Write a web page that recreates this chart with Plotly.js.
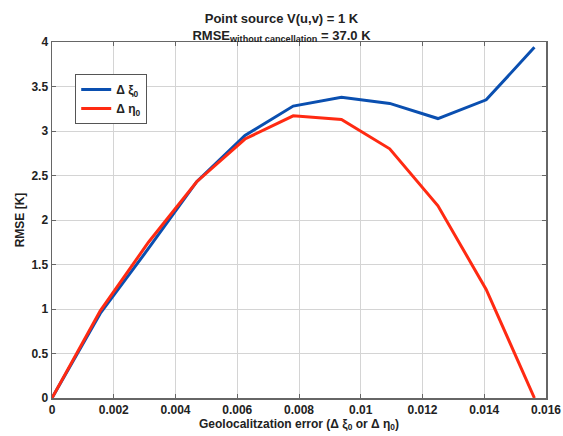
<!DOCTYPE html>
<html><head><meta charset="utf-8">
<script src="https://cdn.plot.ly/plotly-3.0.1.min.js"></script>
<style>html,body{margin:0;padding:0;background:#fff}#g{width:563px;height:436px}</style>
</head><body><div id="g"></div>
<script>
const xErr = [0, 0.0015625, 0.003125, 0.0046875, 0.00625, 0.0078125, 0.009375, 0.0109375, 0.0125, 0.0140625, 0.015625];
const rmseXi = [0, 0.95, 1.68, 2.43, 2.95, 3.28, 3.38, 3.31, 3.14, 3.35, 3.94];
const rmseEta = [0, 0.98, 1.75, 2.43, 2.91, 3.17, 3.13, 2.80, 2.16, 1.22, 0];
const xTicks = [0, 0.002, 0.004, 0.006, 0.008, 0.01, 0.012, 0.014, 0.016];
const xTickText = ['0','0.002','0.004','0.006','0.008','0.01','0.012','0.014','0.016'];
const yTicks = [0, 0.5, 1, 1.5, 2, 2.5, 3, 3.5, 4];
const yTickText = ['0','0.5','1','1.5','2','2.5','3','3.5','4'];

const fam = 'Liberation Sans, Arial, sans-serif';
const data = [
  {x: xErr, y: rmseXi, mode: 'lines', name: 'Δ ξ<sub>0</sub>', line: {color: '#0a4fb0', width: 3}},
  {x: xErr, y: rmseEta, mode: 'lines', name: 'Δ η<sub>0</sub>', line: {color: '#ff2a12', width: 3}}
];
const axBase = {showline: true, mirror: 'ticks', linecolor: '#666', linewidth: 1.5, ticks: 'inside', ticklen: 4, tickcolor: '#666',
  showgrid: true, gridcolor: '#d4d4d4', gridwidth: 1, zeroline: false, tickfont: {family: fam, size: 12, color: '#222', weight: 'bold'}};
const layout = {
  width: 563, height: 436,
  margin: {l: 52, r: 17, t: 42, b: 38},
  paper_bgcolor: '#fff', plot_bgcolor: '#fff',
  font: {family: fam, size: 12, color: '#222'},
  title: {text: '<b>Point source V(u,v) = 1 K<br>RMSE<sub>without cancellation</sub> = 37.0 K</b>', x: 0.5, xanchor: 'center', y: 0.948, yanchor: 'middle', font: {family: fam, size: 13, color: '#222'}},
  xaxis: Object.assign({}, axBase, {range: [0, 0.016], tickvals: xTicks, ticktext: xTickText,
    title: {text: '<b>Geolocalitzation error (Δ ξ<sub>0</sub> or Δ η<sub>0</sub>)</b>', standoff: 2, font: {family: fam, size: 12, color: '#222'}}}),
  yaxis: Object.assign({}, axBase, {range: [0, 4], tickvals: yTicks, ticktext: yTickText,
    title: {text: '<b>RMSE [K]</b>', standoff: 4, font: {family: fam, size: 12, color: '#222'}}}),
  showlegend: true,
  legend: {x: 0.047, y: 0.91, xanchor: 'left', yanchor: 'top', bordercolor: '#555', borderwidth: 1, bgcolor: '#fff',
    font: {family: fam, size: 12, color: '#222', weight: 'bold'}, tracegroupgap: 0}
};
Plotly.newPlot('g', data, layout, {displayModeBar: false, staticPlot: true});
</script></body></html>
